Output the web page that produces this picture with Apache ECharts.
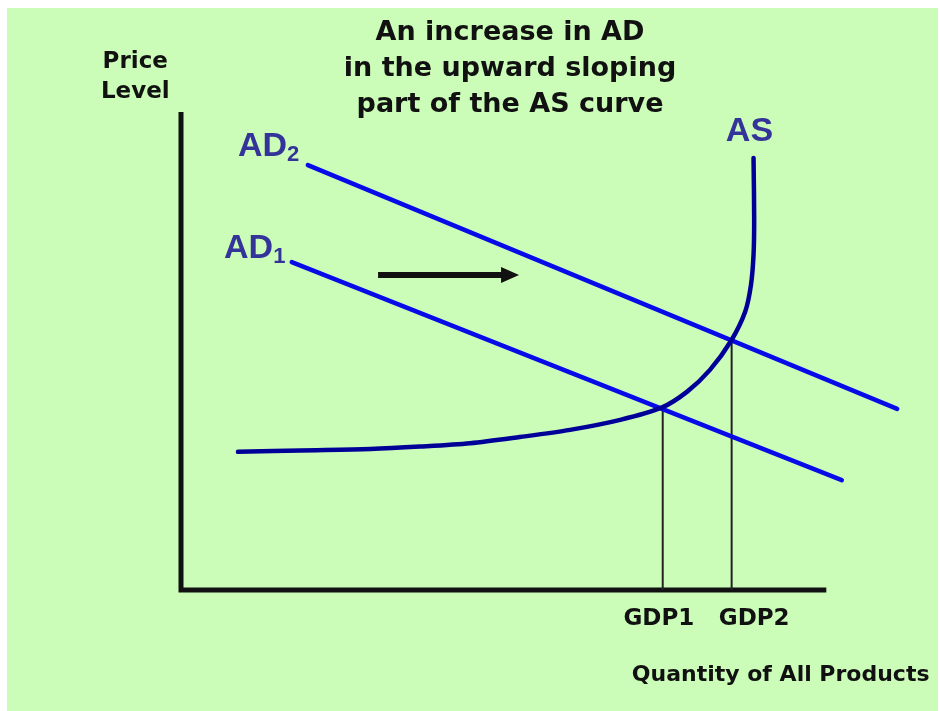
<!DOCTYPE html>
<html>
<head>
<meta charset="utf-8">
<script src="https://cdn.jsdelivr.net/npm/echarts@6/dist/echarts.min.js"></script>
<style>
html,body{margin:0;padding:0;background:#ffffff;}
#bg{position:absolute;left:7px;top:8px;width:931px;height:703px;background:#cbfdb8;}
#chart{position:absolute;left:0;top:0;width:940px;height:711px;}
</style>
</head>
<body>
<div id="bg"></div>
<div id="chart"></div>
<script>
// ---- data (arbitrary units: quantity 0..100, price 0..100) ----
const ad1 = [[17.2, 68.6], [102.6, 23.0]];
const ad2 = [[19.7, 88.9], [111.2, 37.9]];
const asCurve = [
  [8.85, 28.9], [18.5, 29.2], [29.4, 29.5], [37.1, 30.0], [44.9, 30.7],
  [52.6, 32.0], [60.4, 33.5], [68.2, 35.6], [74.7, 38.2], [78.6, 41.5],
  [82.1, 46.0], [85.4, 52.1], [87.6, 58.2], [88.5, 63.8], [88.9, 70.1],
  [89.0, 77.4], [88.9, 90.4]
];
const gdpNames = ['GDP1', 'GDP2'];
const gdpQty = [74.8, 85.5];
const eqPrice = [38.2, 52.0];
const shiftArrow = [[30.6, 65.9], [51.1, 65.9]];
const axisFrame = [[0, 100], [0, 0], [100.2, 0]];
const titleLines = ['An increase in AD', 'in the upward sloping', 'part of the AS curve'];
const yAxisName = ['Price', 'Level'];
const xAxisName = 'Quantity of All Products';

// ---- layout ----
const black = '#111111';
const labelBlue = '#333399';
const textFont = 'DejaVu Sans';
const labelFont = 'Liberation Sans';

function textPoint(x, y, fmt, opts) {
  return {
    value: [x, y],
    itemStyle: {opacity: 1},
    label: Object.assign({
      show: true, position: 'inside', formatter: fmt, opacity: 1,
      fontFamily: textFont, fontWeight: 'bold', color: black
    }, opts)
  };
}

const rich = {
  a: {fontSize: 34, fontFamily: labelFont, fontWeight: 'bold', color: labelBlue, lineHeight: 36, verticalAlign: 'bottom'},
  s: {fontSize: 22, fontFamily: labelFont, fontWeight: 'bold', color: labelBlue, lineHeight: 26, verticalAlign: 'bottom', padding: [0, 0, -2, 0]}
};

const textData = [
  textPoint(8.85, 93.0, '{a|AD}{s|2}', {align: 'left', verticalAlign: 'middle', rich: rich}),
  textPoint(6.68, 71.6, '{a|AD}{s|1}', {align: 'left', verticalAlign: 'middle', rich: rich}),
  textPoint(84.6, 96.2, '{a|AS}', {align: 'left', verticalAlign: 'middle', rich: rich}),
  textPoint(74.2, -6.1, gdpNames[0], {align: 'center', verticalAlign: 'middle', fontSize: 23}),
  textPoint(89.0, -6.1, gdpNames[1], {align: 'center', verticalAlign: 'middle', fontSize: 23}),
  textPoint(70.0, -17.8, xAxisName, {align: 'left', verticalAlign: 'middle', fontSize: 22}),
  textPoint(-7.1, 107.4, yAxisName.join('\n'), {align: 'center', verticalAlign: 'middle', fontSize: 23, lineHeight: 30})
];

const chart = echarts.init(document.getElementById('chart'), null, {renderer: 'canvas'});
chart.setOption({
  backgroundColor: 'transparent',
  animation: false,
  title: {
    text: titleLines.join('\n'),
    left: 510, top: 15, padding: 0, textAlign: 'center',
    textStyle: {fontFamily: textFont, fontWeight: 'bold', fontSize: 27, lineHeight: 36, color: black}
  },
  grid: {left: 181, right: 37.7, top: 112, bottom: 121},
  xAxis: {type: 'value', min: 0, max: 112, show: false},
  yAxis: {type: 'value', min: 0, max: 100, show: false},
  series: [
    {type: 'line', data: axisFrame, symbol: 'none', clip: false,
      lineStyle: {color: black, width: 5, join: 'miter'}},
    {type: 'line', data: [[gdpQty[0], 0], [gdpQty[0], eqPrice[0]]], symbol: 'none', clip: false,
      lineStyle: {color: '#222222', width: 2}},
    {type: 'line', data: [[gdpQty[1], 0], [gdpQty[1], eqPrice[1]]], symbol: 'none', clip: false,
      lineStyle: {color: '#222222', width: 2}},
    {type: 'line', data: ad1, symbol: 'none', clip: false,
      lineStyle: {color: '#0a0ae8', width: 4.5, cap: 'round'}},
    {type: 'line', data: ad2, symbol: 'none', clip: false,
      lineStyle: {color: '#0a0ae8', width: 4.5, cap: 'round'}},
    {type: 'line', data: asCurve, symbol: 'none', smooth: 0.3, clip: false,
      lineStyle: {color: '#000099', width: 4.5, cap: 'round'}},
    {type: 'line', data: [], symbol: 'none',
      markLine: {
        silent: true, symbol: ['none', 'triangle'], symbolSize: [16, 18],
        label: {show: false},
        lineStyle: {color: black, width: 6, type: 'solid'},
        data: [[{coord: shiftArrow[0]}, {coord: shiftArrow[1]}]]
      }},
    {type: 'scatter', data: textData, symbolSize: 0, clip: false, silent: true}
  ]
});
</script>
</body>
</html>
